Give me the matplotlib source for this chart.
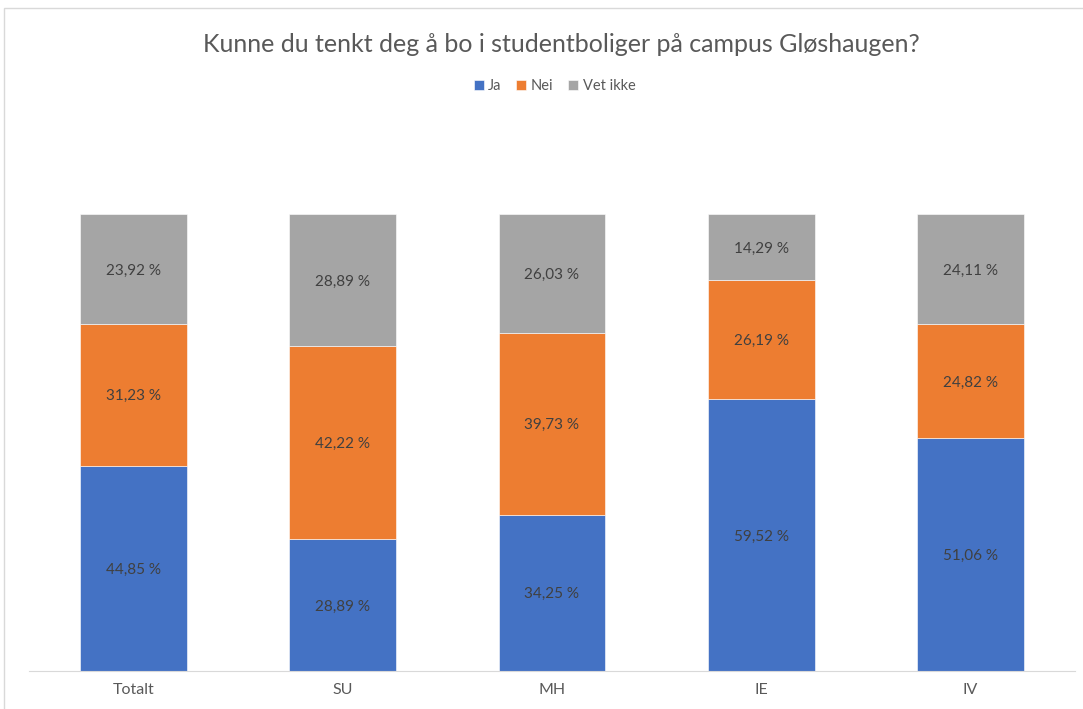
import matplotlib.pyplot as plt
from matplotlib.patches import Rectangle
import numpy as np

plt.rcParams['font.family'] = ['Lato', 'DejaVu Sans']

# --- Data ---
categories = ["Totalt", "SU", "MH", "IE", "IV"]
series_names = ["Ja", "Nei", "Vet ikke"]
ja = [44.85, 28.89, 34.25, 59.52, 51.06]
nei = [31.23, 42.22, 39.73, 26.19, 24.82]
vet_ikke = [23.92, 28.89, 26.03, 14.29, 24.11]
colors = ["#4472C4", "#ED7D31", "#A5A5A5"]

W, H = 1083, 709
fig = plt.figure(figsize=(W / 100, H / 100), dpi=100)

# chart border (light gray, like Excel's chart area)
fig.patches.append(Rectangle((4 / W, -0.1), 1.2, 1 - 8 / H + 0.1,
                             transform=fig.transFigure, fill=False,
                             edgecolor="#D9D9D9", linewidth=1.0))

ax = fig.add_axes([29 / W, (H - 671) / H, (1075 - 29) / W, (671 - 123) / H])

x = np.arange(len(categories))
bottom = np.zeros(len(categories))
for name, vals, c in zip(series_names, [ja, nei, vet_ikke], colors):
    vals = np.array(vals)
    ax.bar(x, vals, 0.51, bottom=bottom, color=c, label=name,
           edgecolor="white", linewidth=0.4)
    for xi, b, v in zip(x, bottom, vals):
        ax.text(xi, b + v / 2, f"{v:.2f} %".replace(".", ","),
                ha="center", va="center_baseline", fontsize=11, color="#404040")
    bottom += vals

ax.set_xlim(-0.5, len(categories) - 0.5)
ax.set_ylim(0, 120)
ax.set_yticks([])
for s in ["top", "right", "left"]:
    ax.spines[s].set_visible(False)
ax.spines["bottom"].set_color("#D9D9D9")
ax.set_xticks(x)
ax.set_xticklabels(categories, fontsize=11.5, color="#595959")
ax.tick_params(axis="x", length=0, pad=9)

fig.text(0.518, 1 - 45 / H, "Kunne du tenkt deg å bo i studentboliger på campus Gløshaugen?",
         ha="center", va="center", fontsize=18, color="#595959")

fig.legend(loc="center", bbox_to_anchor=(0.512, 1 - 86 / H), ncol=3, frameon=False,
           fontsize=10.5, handlelength=0.7, handleheight=0.7, handletextpad=0.3,
           columnspacing=1.0, labelcolor="#595959")

plt.savefig("out.png", dpi=100)
